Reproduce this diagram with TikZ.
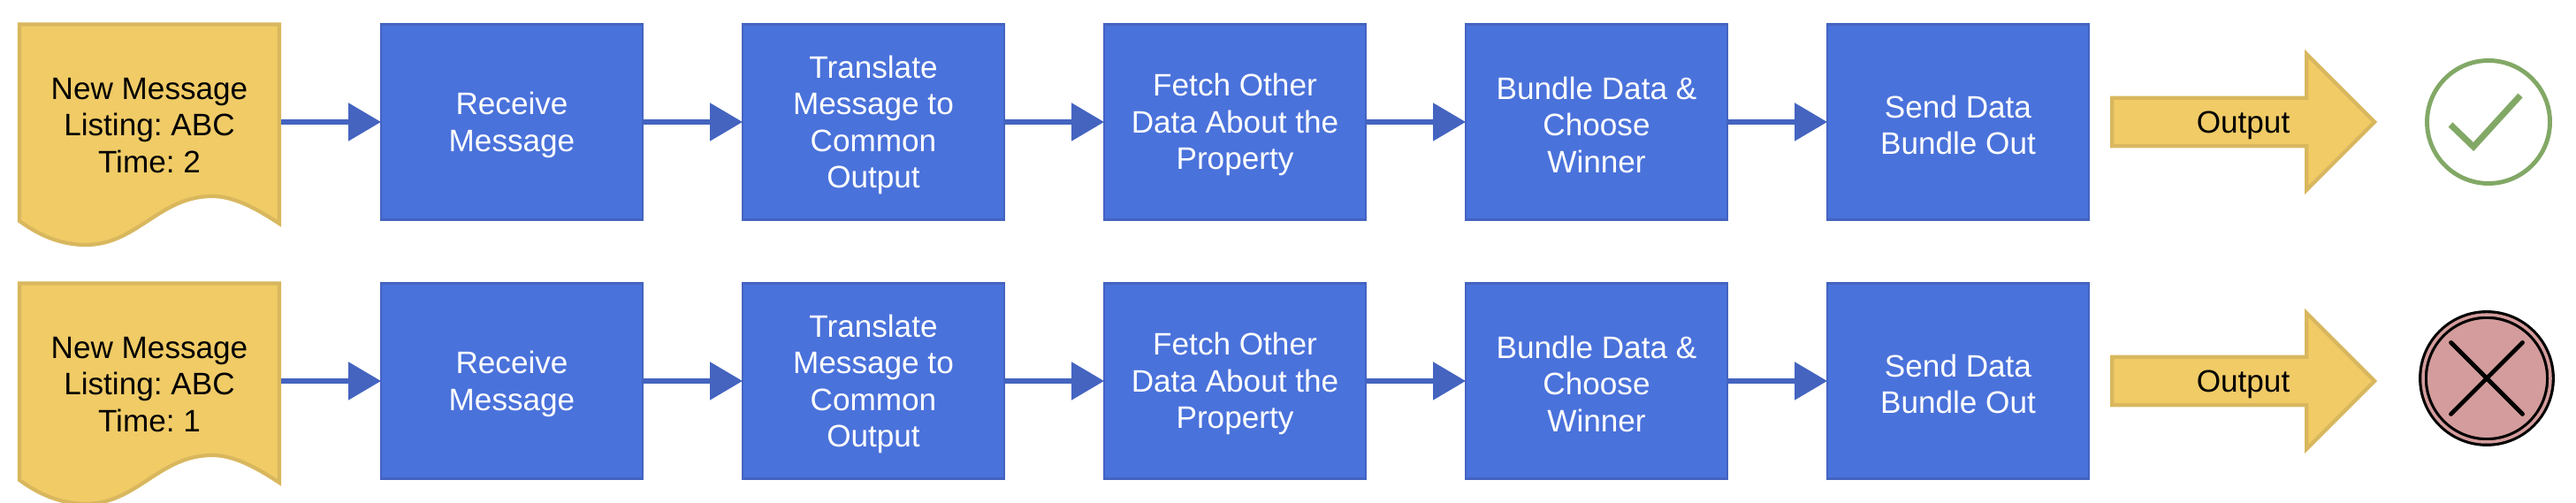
\documentclass[tikz,border=0pt]{standalone}
\usepackage{fontspec}
\setmainfont{Liberation Sans}
\usetikzlibrary{positioning,arrows.meta,shapes.arrows,shapes.misc}
\definecolor{stepblue}{HTML}{4A72DB}
\definecolor{stepedge}{HTML}{4464C0}
\definecolor{msgyellow}{HTML}{F0CB66}
\definecolor{msgedge}{HTML}{D8B75E}
\definecolor{okgreen}{HTML}{82A866}
\definecolor{failred}{HTML}{D49C9C}
\frenchspacing
\newcommand{\topgap}{\rule{0pt}{0.32cm}}
\tikzset{
  labelfont/.style={font=\fontsize{10}{11.8}\selectfont},
  stepbox/.style={shape=rectangle,fill=stepblue,draw=stepedge,line width=0.8pt,text=white,align=center,
    minimum width=2.96cm,minimum height=2.21cm,outer sep=0pt,labelfont},
  msgbox/.style={shape=rectangle,align=center,minimum width=2.98cm,minimum height=2.21cm,outer sep=0pt,labelfont},
  msgpaper/.style={fill=msgyellow,draw=msgedge,line width=1.2pt},
  outarrow/.style={shape=single arrow,fill=msgyellow,draw=msgedge,line width=1.2pt,single arrow head extend=0.46cm,
    single arrow tip angle=90,minimum height=2.97cm,minimum width=1.54cm,outer sep=0pt,inner sep=1pt,labelfont},
  flow/.style={-{Triangle[length=0.37cm,width=0.42cm]},draw=stepedge,fill=stepedge,line width=1.6pt}
}
\begin{document}
\begin{tikzpicture}[node distance=1.13cm]
  \useasboundingbox (0,0) rectangle (29.14,5.69);
  % first row
  \draw[msgpaper] (0.22,5.415) -- (3.16,5.415) -- (3.16,3.16)
    .. controls (2.90,3.33) and (2.65,3.47) .. (2.40,3.47)
    .. controls (1.80,3.47) and (1.55,2.92) .. (0.97,2.92)
    .. controls (0.70,2.92) and (0.45,3.02) .. (0.22,3.19) -- cycle;
  \node [msgbox] (msg1) at (1.69,4.31) {\topgap New Message\\Listing: ABC\\Time: 2};
  \node [stepbox,right=of msg1] (recv1) {\topgap Receive\\Message};
  \node [stepbox,right=of recv1] (trans1) {\topgap Translate\\Message to\\Common\\Output};
  \node [stepbox,right=of trans1] (fetch1) {\topgap Fetch Other\\Data About the\\Property};
  \node [stepbox,right=of fetch1] (bundle1) {\topgap Bundle Data \&\\Choose\\Winner};
  \node [stepbox,right=of bundle1] (send1) {\topgap Send Data\\Bundle Out};
  \node [outarrow] (out1) at (25.24,4.31) {\topgap\hspace*{0.27cm}Output};
  \node [shape=circle,draw=okgreen,line width=1.4pt,minimum size=1.39cm,outer sep=0pt] (ok) at (28.15,4.31) {};
  \draw[okgreen,line width=2pt] ([shift={(-0.43,-0.03)}]ok.center) -- ([shift={(-0.17,-0.28)}]ok.center) -- ([shift={(0.36,0.30)}]ok.center);
  % second row
  \draw[msgpaper] (0.22,2.485) -- (3.16,2.485) -- (3.16,0.23)
    .. controls (2.90,0.40) and (2.65,0.54) .. (2.40,0.54)
    .. controls (1.80,0.54) and (1.55,-0.01) .. (0.97,-0.01)
    .. controls (0.70,-0.01) and (0.45,0.09) .. (0.22,0.26) -- cycle;
  \node [msgbox] (msg2) at (1.69,1.38) {\topgap New Message\\Listing: ABC\\Time: 1};
  \node [stepbox,right=of msg2] (recv2) {\topgap Receive\\Message};
  \node [stepbox,right=of recv2] (trans2) {\topgap Translate\\Message to\\Common\\Output};
  \node [stepbox,right=of trans2] (fetch2) {\topgap Fetch Other\\Data About the\\Property};
  \node [stepbox,right=of fetch2] (bundle2) {\topgap Bundle Data \&\\Choose\\Winner};
  \node [stepbox,right=of bundle2] (send2) {\topgap Send Data\\Bundle Out};
  \node [outarrow] (out2) at (25.24,1.38) {\topgap\hspace*{0.27cm}Output};
  \node [shape=circle,fill=failred,draw=black,line width=0.9pt,double=failred,double distance=1pt,minimum size=1.44cm,outer sep=0pt] (fail) at (28.13,1.41) {};
  \node [shape=cross out,draw=black,line width=1.4pt,line cap=round,minimum size=0.76cm,inner sep=0pt] (failx) at (fail.center) {};
  \path[flow] (msg1) edge (recv1) (recv1) edge (trans1) (trans1) edge (fetch1) (fetch1) edge (bundle1) (bundle1) edge (send1);
  \path[flow] (msg2) edge (recv2) (recv2) edge (trans2) (trans2) edge (fetch2) (fetch2) edge (bundle2) (bundle2) edge (send2);
\end{tikzpicture}
\end{document}
